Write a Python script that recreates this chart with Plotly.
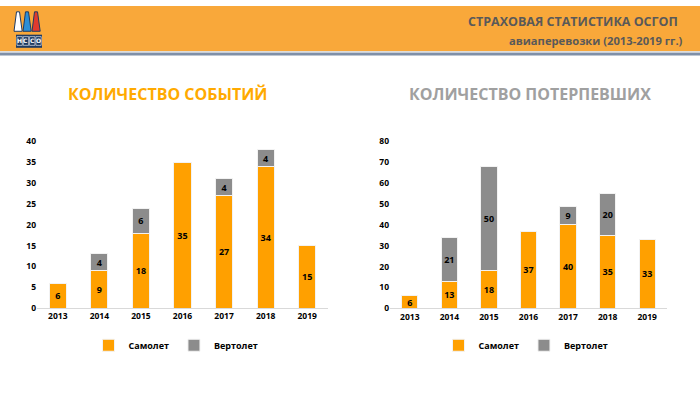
import plotly.graph_objects as go

W, H = 700, 394

years = ["2013", "2014", "2015", "2016", "2017", "2018", "2019"]
events_plane = [6, 9, 18, 35, 27, 34, 15]
events_heli = [None, 4, 6, None, 4, 4, None]
victims_plane = [6, 13, 18, 37, 40, 35, 33]
victims_heli = [None, 21, 50, None, 9, 20, None]

ORANGE = "#FFA000"
GRAY = "#8C8C8C"
FONT = "Open Sans"

def px(x):
    return x / W

def py(y):
    return 1 - y / H

fig = go.Figure()

def bars(vals, name, color, xa, ya, legend, show):
    fig.add_trace(go.Bar(
        x=years, y=vals, name=name, marker=dict(color=color, line=dict(color="#F2F2F2", width=1)),
        text=[("" if v is None else str(v)) for v in vals], textposition="inside",
        insidetextanchor="middle", textangle=0,
        textfont=dict(family=FONT, size=9, color="#000000", weight="bold"),
        xaxis=xa, yaxis=ya, legend=legend, showlegend=show, width=0.41,
        hoverinfo="skip",
    ))

bars(events_plane, "Самолет", ORANGE, "x", "y", "legend", True)
bars(events_heli, "Вертолет", GRAY, "x", "y", "legend", True)
bars(victims_plane, "Самолет", ORANGE, "x2", "y2", "legend2", True)
bars(victims_heli, "Вертолет", GRAY, "x2", "y2", "legend2", True)

axis_common = dict(showgrid=False, zeroline=False, ticks="",
                   tickfont=dict(family=FONT, size=8.5, color="#000000", weight="bold"))

legend_common = dict(orientation="h", xanchor="center", yanchor="middle", traceorder="normal",
                     font=dict(family=FONT, size=9, color="#000000", weight="bold"),
                     itemwidth=30, tracegroupgap=0, bgcolor="rgba(0,0,0,0)")

fig.update_layout(
    width=W, height=H, margin=dict(l=0, r=0, t=0, b=0),
    paper_bgcolor="white", plot_bgcolor="white",
    barmode="stack", bargap=0.59,
    uniformtext=dict(mode="show", minsize=9),
    font=dict(family=FONT),
    xaxis=dict(domain=[px(37), px(328)], showline=True, linecolor="#D9D9D9", linewidth=1,
               **axis_common),
    yaxis=dict(domain=[py(310.7), py(139.3)], range=[0, 40], dtick=5, showline=False,
               anchor="x", **axis_common),
    xaxis2=dict(domain=[px(390), px(667)], showline=True, linecolor="#D9D9D9", linewidth=1,
                anchor="y2", **axis_common),
    yaxis2=dict(domain=[py(311), py(139.3)], range=[0, 80], dtick=10, showline=False,
                anchor="x2", **axis_common),
    legend=dict(x=px(176), y=py(349), **legend_common),
    legend2=dict(x=px(526), y=py(349), **legend_common),
)

shapes = []
# header band
shapes.append(dict(type="rect", xref="paper", yref="paper", x0=0, x1=1, y0=py(46.5), y1=1,
                   fillcolor="#F9A83A", line=dict(width=0), layer="below"))
shapes.append(dict(type="rect", xref="paper", yref="paper", x0=0, x1=1, y0=py(48), y1=py(46.5),
                   fillcolor="#D5D9DE", line=dict(width=0)))
shapes.append(dict(type="rect", xref="paper", yref="paper", x0=0, x1=1, y0=py(51), y1=py(48),
                   fillcolor="#7F90A8", line=dict(width=0)))

# logo: three pins
def pin(x0, color):
    path = "M {} {} L {} {} L {} {} L {} {} Z".format(
        px(x0 + 2.5), py(6), px(x0 + 5.5), py(6), px(x0 + 8.2), py(26), px(x0), py(26))
    return dict(type="path", xref="paper", yref="paper", path=path,
                fillcolor=color, line=dict(color="#1F3B63", width=1))

shapes.append(pin(14, "#FFFFFF"))
shapes.append(pin(23, "#2C8FD6"))
shapes.append(pin(32, "#E03A2E"))
# logo text box
shapes.append(dict(type="rect", xref="paper", yref="paper", x0=px(16), x1=px(42), y0=py(43), y1=py(29.5),
                   fillcolor="#1F3B63", line=dict(width=0)))
for i in range(4):
    shapes.append(dict(type="rect", xref="paper", yref="paper",
                       x0=px(17 + i * 6.3), x1=px(22.3 + i * 6.3), y0=py(40.5), y1=py(31.5),
                       fillcolor="#1F3B63", line=dict(color="#FFFFFF", width=0.6)))
fig.update_layout(shapes=shapes)

ann = []
for i, ch in enumerate("НССО"):
    ann.append(dict(text=ch, xref="paper", yref="paper", x=px(19.65 + i * 6.3), y=py(36),
                    showarrow=False, xanchor="center", yanchor="middle",
                    font=dict(family="DejaVu Sans", size=6, color="#FFFFFF", weight="bold")))
ann.append(dict(text="СТРАХОВАЯ СТАТИСТИКА ОСГОП", xref="paper", yref="paper", x=px(680), y=py(16),
                showarrow=False, xanchor="right", yanchor="middle",
                font=dict(family=FONT, size=12.5, color="#595959", weight="bold")))
ann.append(dict(text="авиаперевозки (2013-2019 гг.)", xref="paper", yref="paper", x=px(685), y=py(36),
                showarrow=False, xanchor="right", yanchor="middle",
                font=dict(family=FONT, size=11.2, color="#595959", weight="bold")))
ann.append(dict(text="КОЛИЧЕСТВО СОБЫТИЙ", xref="paper", yref="paper", x=px(168), y=py(91),
                showarrow=False, xanchor="center", yanchor="middle",
                font=dict(family=FONT, size=16, color="#FFAA00", weight="bold")))
ann.append(dict(text="КОЛИЧЕСТВО ПОТЕРПЕВШИХ", xref="paper", yref="paper", x=px(530), y=py(91),
                showarrow=False, xanchor="center", yanchor="middle",
                font=dict(family=FONT, size=16, color="#A0A0A0", weight="bold")))
fig.update_layout(annotations=ann)

post = ("document.body.style.margin='0';document.body.style.padding='0';"
        "var d=document.getElementById('{plot_id}');d.style.position='absolute';"
        "d.style.top='0px';d.style.left='0px';")
fig.write_html("out.html", config={"displayModeBar": False}, post_script=post)
